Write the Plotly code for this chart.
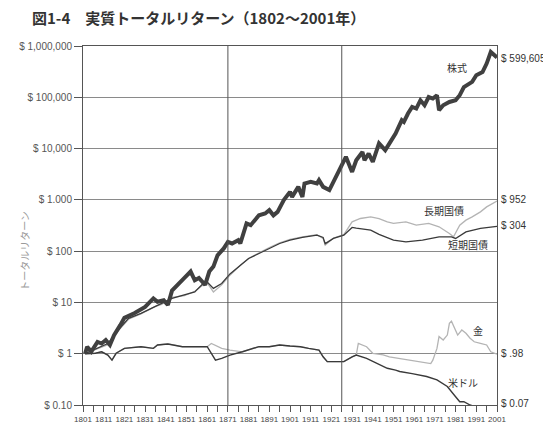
import plotly.graph_objects as go
import numpy as np

stock_years = [1802, 1803, 1805, 1808, 1810, 1812, 1814, 1816, 1819, 1821, 1826, 1831, 1835, 1837,
               1840, 1842, 1844, 1847, 1850, 1853, 1855, 1857, 1860, 1862, 1864, 1866, 1869, 1871,
               1873, 1876, 1877, 1880, 1882, 1884, 1886, 1889, 1891, 1893, 1895, 1898, 1901, 1902,
               1905, 1907, 1908, 1911, 1914, 1915, 1917, 1920, 1922, 1925, 1928, 1931, 1933, 1936,
               1937, 1939, 1941, 1944, 1947, 1948, 1951, 1952, 1955, 1956, 1958, 1960, 1962, 1964,
               1966, 1968, 1970, 1972, 1973, 1975, 1978, 1981, 1983, 1985, 1989, 1991, 1994, 1996,
               1998, 2001]
stock_vals = [1.0, 1.37, 1.1, 1.7, 1.58, 1.85, 1.48, 2.3, 3.6, 5.0, 6.2, 8.2, 12, 10.3,
              11, 8.9, 17, 22, 30, 40, 27, 30, 22, 40, 50, 83, 113, 151,
              141, 164, 141, 347, 321, 402, 500, 543, 630, 500, 583, 986, 1432, 1143,
              1790, 1143, 2080, 2240, 2080, 2420, 1790, 1550, 2240, 3780, 6900, 3500, 5930, 8600,
              5930, 8000, 5500, 12600, 9300, 10800, 16900, 19600, 35700, 33100, 48200, 64900, 60300, 87500,
              70000, 101000, 94400, 109600, 55900, 70000, 81100, 87500, 109600, 158000, 200000, 269000, 311000, 454000,
              764000, 599605]

bond_years = [1802, 1813, 1818, 1823, 1829, 1836, 1839, 1844, 1850, 1855, 1859, 1861, 1864, 1868,
              1872, 1877, 1881, 1886, 1891, 1896, 1901, 1907, 1914, 1917, 1918, 1922, 1927, 1931,
              1935, 1940, 1944, 1948, 1951, 1957, 1962, 1968, 1973, 1978, 1980, 1983, 1986, 1989,
              1993, 1996, 1999, 2001]
bond_vals = [1.0, 1.5, 2.8, 4.7, 6.0, 8.4, 9.2, 12.5, 13.5, 16.5, 22, 24, 16, 22,
             34, 53, 72, 92, 118, 145, 170, 190, 210, 177, 131, 180, 210, 372,
             433, 466, 430, 372, 347, 372, 321, 347, 298, 221, 190, 321, 402, 467,
             583, 730, 850, 952]

bill_years = [1802, 1813, 1818, 1823, 1829, 1836, 1839, 1844, 1850, 1855, 1859, 1861, 1864, 1868,
              1872, 1877, 1881, 1886, 1891, 1896, 1901, 1907, 1914, 1917, 1918, 1922, 1927, 1931,
              1933, 1940, 1944, 1951, 1957, 1965, 1973, 1979, 1981, 1986, 1993, 2001]
bill_vals = [1.0, 1.58, 2.9, 4.9, 6.1, 8.2, 9.6, 12, 13.9, 16, 23.4, 25, 18.8, 23.4,
             36, 53, 72, 90, 113, 141, 164, 185, 205, 185, 140, 177, 205, 290,
             280, 257, 213, 164, 152, 164, 190, 190, 177, 238, 277, 304]

gold_years = [1802, 1807, 1810, 1813, 1815, 1817, 1821, 1829, 1835, 1837, 1842, 1849, 1855, 1861,
              1863, 1868, 1872, 1878, 1883, 1886, 1891, 1896, 1901, 1906, 1910, 1915, 1917, 1919,
              1922, 1927, 1931, 1933, 1934, 1938, 1941, 1946, 1949, 1954, 1960, 1965, 1969, 1970,
              1972, 1973, 1975, 1977, 1978, 1979, 1981, 1982, 1984, 1986, 1988, 1990, 1993, 1996,
              1998, 2001]
gold_vals = [1.0, 1.02, 1.09, 0.94, 0.75, 1.02, 1.27, 1.37, 1.27, 1.48, 1.55, 1.37, 1.37, 1.37,
             1.59, 1.27, 1.18, 1.09, 1.27, 1.37, 1.37, 1.48, 1.41, 1.37, 1.27, 1.18, 0.87, 0.70,
             0.70, 0.70, 0.87, 0.94, 1.59, 1.37, 1.02, 0.95, 0.87, 0.81, 0.75, 0.70, 0.64, 0.75,
             1.27, 2.16, 1.85, 2.31, 3.9, 4.3, 2.9, 2.31, 2.9, 2.5, 2.0, 1.71, 1.59, 1.48,
             1.09, 0.98]

dollar_years = [1802, 1807, 1810, 1813, 1815, 1817, 1821, 1829, 1835, 1837, 1842, 1849, 1855, 1861,
                1863, 1865, 1868, 1872, 1878, 1883, 1886, 1891, 1896, 1901, 1906, 1910, 1915, 1917,
                1919, 1922, 1927, 1931, 1933, 1938, 1943, 1948, 1952, 1954, 1960, 1967, 1972, 1977,
                1981, 1983, 1985, 1988, 1995, 2001]
dollar_vals = [1.0, 1.02, 1.09, 0.94, 0.75, 1.02, 1.27, 1.37, 1.27, 1.48, 1.55, 1.37, 1.37, 1.37,
               1.02, 0.75, 0.81, 0.94, 1.09, 1.27, 1.37, 1.37, 1.48, 1.41, 1.37, 1.27, 1.18, 0.87,
               0.70, 0.70, 0.70, 0.87, 0.94, 0.81, 0.65, 0.52, 0.48, 0.45, 0.41, 0.36, 0.31, 0.23,
               0.145, 0.116, 0.116, 0.10, 0.08, 0.07]

y_tickvals = [0.1, 1, 10, 100, 1000, 10000, 100000, 1000000]
y_ticktext = ["$ 0.10", "$ 1", "$ 10", "$ 100", "$ 1.000", "$ 10,000", "$ 100,000", "$ 1,000,000"]

period_breaks = [1871, 1926]

# series labels inside the plot: (text, year, value)
series_labels = [("株式", 1981.5, 385000), ("長期国債", 1975.5, 630),
                 ("短期国債", 1987, 132), ("金", 1992, 2.9), ("米ドル", 1984.5, 0.27)]
# final values written at the right edge: (text, value where printed)
end_labels = [("$ 599,605", 560000), ("$ 952", 1000), ("$ 304", 310),
              ("$ .98", 1.0), ("$ 0.07", 0.105)]

JP = "Noto Sans CJK JP"
NUM = "Liberation Sans"
DARK = "#3a3a3a"
LIGHT = "#b4b4b4"

# the page body adds an 8px offset, so the figure is 8px smaller than the window
W, H = 543, 419

fig = go.Figure()

fig.add_trace(go.Scatter(x=gold_years, y=gold_vals, mode="lines",
                         line=dict(color=LIGHT, width=1.3), name="金"))
fig.add_trace(go.Scatter(x=bond_years, y=bond_vals, mode="lines",
                         line=dict(color=LIGHT, width=1.3), name="長期国債"))
fig.add_trace(go.Scatter(x=dollar_years, y=dollar_vals, mode="lines",
                         line=dict(color=DARK, width=1.4), name="米ドル"))
fig.add_trace(go.Scatter(x=bill_years, y=bill_vals, mode="lines",
                         line=dict(color=DARK, width=1.3), name="短期国債"))
fig.add_trace(go.Scatter(x=stock_years, y=stock_vals, mode="lines",
                         line=dict(color="#404040", width=4), name="株式"))

for yr in period_breaks:
    fig.add_shape(type="line", x0=yr, x1=yr, y0=0, y1=1, xref="x", yref="paper",
                  line=dict(color="#555555", width=1))

annotations = []
for txt, yr, val in series_labels:
    annotations.append(dict(x=yr, y=np.log10(val), xref="x", yref="y", text=txt,
                            showarrow=False, font=dict(family=JP, size=10, color="#333333")))
for txt, val in end_labels:
    annotations.append(dict(x=1, y=np.log10(val), xref="paper", yref="y", text=txt,
                            xanchor="left", xshift=2, showarrow=False,
                            font=dict(family=NUM, size=10, color="#333333")))
annotations.append(dict(x=-0.14, y=0.43, xref="paper", yref="paper", text="トータルリターン",
                        textangle=-90, xanchor="center", yanchor="middle", showarrow=False,
                        font=dict(family=JP, size=10, color="#9a9a9a")))

fig.update_layout(
    width=W, height=H,
    margin=dict(l=75, r=54, t=38, b=22, autoexpand=False),
    paper_bgcolor="white", plot_bgcolor="white",
    showlegend=False,
    title=dict(text="<b>図1-4　実質トータルリターン（1802～2001年）</b>",
               xref="container", x=24 / W, xanchor="left",
               yref="container", y=1 - 11 / H, yanchor="middle",
               font=dict(family=JP, size=15, color="#333333")),
    annotations=annotations,
)

fig.update_xaxes(range=[1801, 2001], tick0=1801, dtick=10, automargin=False,
                 ticks="outside", ticklen=6, tickcolor="#555555",
                 minor=dict(tick0=1801, dtick=5, ticks="outside", ticklen=6, tickcolor="#555555"),
                 showgrid=False, zeroline=False,
                 showline=True, linecolor="#555555", linewidth=1, mirror=True,
                 tickfont=dict(family=NUM, size=8, color="#444444"))
fig.update_yaxes(type="log", range=[-1, 6], tickvals=y_tickvals, ticktext=y_ticktext,
                 automargin=False,
                 ticks="outside", ticklen=8, tickcolor="#555555",
                 showgrid=True, gridcolor="#8a8a8a", gridwidth=1,
                 showline=True, linecolor="#555555", linewidth=1, mirror=True,
                 tickfont=dict(family=NUM, size=10, color="#555555"))

fig.write_html("out.html")
